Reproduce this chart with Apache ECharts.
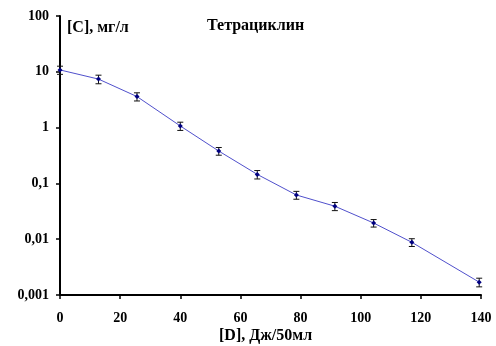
<!DOCTYPE html>
<html><head><meta charset="utf-8">
<script src="https://cdn.jsdelivr.net/npm/echarts@6/dist/echarts.min.js"></script>
<style>html,body{margin:0;padding:0;background:#fff}#c{width:496px;height:346px}</style>
</head><body><div id="c"></div>
<script>
const doseX = [0, 12.8, 25.6, 40, 52.8, 65.6, 78.6, 91.4, 104.3, 117, 139.4];
const concY = [10.8, 7.4, 3.6, 1.07, 0.38, 0.145, 0.062, 0.039, 0.0195, 0.0088, 0.0017];
const concErr = [1.8, 1.3, 0.6, 0.18, 0.06, 0.025, 0.01, 0.0065, 0.003, 0.0014, 0.0003];
const xTicks = [0, 20, 40, 60, 80, 100, 120, 140];
const yTicks = [0.001, 0.01, 0.1, 1, 10, 100];
const titleText = 'Тетрациклин';
const yName = '[C], мг/л';
const xName = '[D], Дж/50мл';

const font = 'Liberation Serif';
const chart = echarts.init(document.getElementById('c'));
const pts = doseX.map((x, i) => [x, concY[i]]);
const errData = doseX.map((x, i) => [x, concY[i] - concErr[i], concY[i] + concErr[i]]);
chart.setOption({
  animation: false,
  backgroundColor: '#fff',
  grid: {left: 60, right: 15, top: 16, bottom: 51},
  graphic: [
    {type: 'text', left: 67, top: 20, style: {text: yName, font: 'bold 16px "Liberation Serif"', fill: '#000'}},
    {type: 'text', left: 207, top: 18, style: {text: titleText, font: 'bold 16px "Liberation Serif"', fill: '#000'}},
    {type: 'text', left: 219, top: 328, style: {text: xName, font: 'bold 16px "Liberation Serif"', fill: '#000'}}
  ],
  xAxis: {
    type: 'value', min: 0, max: 140, interval: 20,
    axisLine: {lineStyle: {color: '#000', width: 2}},
    axisTick: {inside: false, length: 4, lineStyle: {color: '#000', width: 1.5}},
    axisLabel: {margin: 16, color: '#000', fontFamily: font, fontWeight: 'bold', fontSize: 14,
      formatter: v => xTicks.includes(v) ? String(v) : ''},
    splitLine: {show: false}
  },
  yAxis: {
    type: 'log', logBase: 10, min: 0.001, max: 100,
    axisLine: {show: true, lineStyle: {color: '#000', width: 2}},
    axisTick: {show: true, inside: false, length: 4, lineStyle: {color: '#000', width: 1.5}},
    axisLabel: {margin: 11, color: '#000', fontFamily: font, fontWeight: 'bold', fontSize: 14,
      formatter: v => {
        const t = yTicks.find(k => Math.abs(Math.log10(k) - Math.log10(v)) < 1e-6);
        return t === undefined ? '' : String(t).replace('.', ',');
      }},
    splitLine: {show: false}
  },
  series: [
    {
      type: 'line', data: pts, symbol: 'diamond', symbolSize: 5,
      lineStyle: {color: '#5050cc', width: 1},
      itemStyle: {color: '#000080'}, z: 3
    },
    {
      type: 'custom', data: errData, z: 2,
      renderItem: (params, api) => {
        const x = api.value(0);
        const lo = api.coord([x, api.value(1)]);
        const hi = api.coord([x, api.value(2)]);
        const w = 3;
        const st = {stroke: '#111', lineWidth: 1};
        return {type: 'group', children: [
          {type: 'line', shape: {x1: lo[0], y1: lo[1], x2: hi[0], y2: hi[1]}, style: st},
          {type: 'line', shape: {x1: lo[0] - w, y1: lo[1], x2: lo[0] + w, y2: lo[1]}, style: st},
          {type: 'line', shape: {x1: hi[0] - w, y1: hi[1], x2: hi[0] + w, y2: hi[1]}, style: st}
        ]};
      }
    }
  ]
});
</script></body></html>
